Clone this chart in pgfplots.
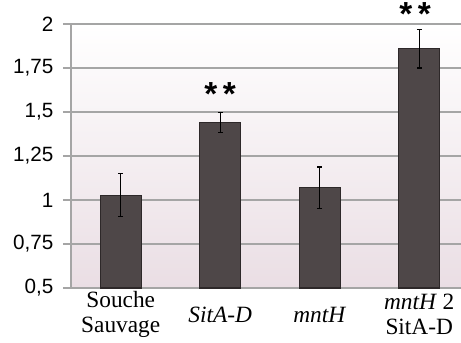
\documentclass[border=0pt]{standalone}
\usepackage{pgfplots}
\pgfplotsset{compat=1.18}
\usepackage{fontspec}
\setmainfont{Liberation Serif}
\newfontfamily\arial{Liberation Sans}

\definecolor{barfill}{RGB}{78,71,72}
\definecolor{bardraw}{RGB}{45,40,41}
\definecolor{bgpink}{RGB}{234,222,228}
\definecolor{gridc}{RGB}{165,165,165}

\pgfplotstableread{
x  y     err
0  1.028 0.124
1  1.439 0.057
2  1.070 0.118
3  1.860 0.110
}\ratios

\begin{document}
\begin{tikzpicture}
\begin{axis}[
  scale only axis,
  width=292.5pt, height=198pt,
  xmin=-0.5, xmax=3.42,
  ymin=0.5, ymax=2,
  axis x line*=bottom,
  axis y line*=left,
  axis line style={gridc, line width=0.8pt},
  ytick={0.5,0.75,1,1.25,1.5,1.75,2},
  yticklabels={{0,5},{0,75},{1},{1,25},{1,5},{1,75},{2}},
  yticklabel style={font=\arial\fontsize{15.5pt}{18pt}\selectfont, inner sep=0pt, xshift=-7pt},
  tick align=outside,
  major tick length=6pt,
  ytick style={gridc, line width=0.8pt},
  xtick=data,
  xtick style={draw=none},
  xticklabels={{Souche\\Sauvage},{\textit{SitA-D}},{\textit{mntH}},{\textit{mntH} 2\\SitA-D}},
  xticklabel style={align=center, anchor=center, yshift=-14pt,
    font=\fontsize{17.5pt}{18.5pt}\selectfont},
  ymajorgrids,
  grid style={gridc, line width=0.8pt},
  axis background/.style={top color=white, middle color=white!70!bgpink, bottom color=bgpink},
  clip=false,
]
\addplot[ybar, bar width=30.75pt, fill=barfill, draw=bardraw, line width=0.8pt,
  error bars/.cd, y dir=both, y explicit,
  error bar style={black, line width=0.9pt},
  error mark options={black, line width=0.9pt, mark size=1.8pt, rotate=90}]
  table[x=x, y=y, y error=err] {\ratios};
\node[font=\arial\bfseries\fontsize{25pt}{25pt}\selectfont] at (axis cs:1,1.60) {*\,*};
\node[font=\arial\bfseries\fontsize{25pt}{25pt}\selectfont] at (axis cs:2.96,2.055) {*\,*};
\end{axis}
\pgfresetboundingbox
\path ([shift={(-53.25pt,-41.25pt)}]current axis.south west) rectangle ([shift={(0pt,18pt)}]current axis.north east);
\end{tikzpicture}
\end{document}
